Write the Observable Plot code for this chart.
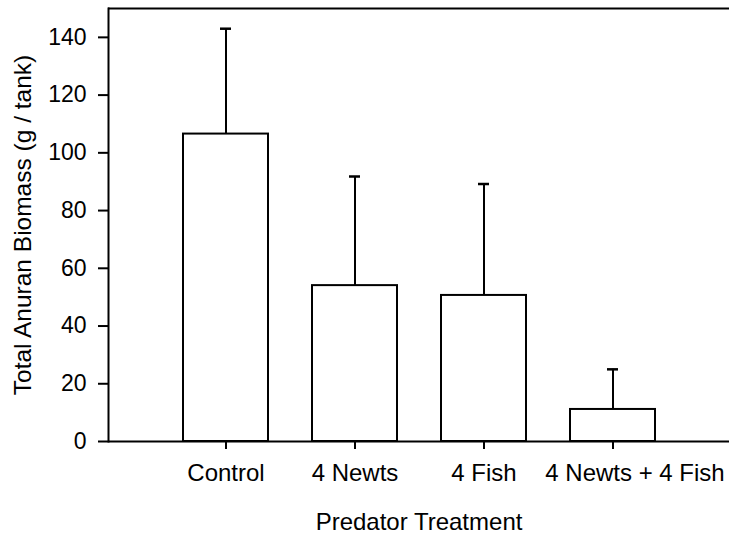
<!DOCTYPE html>
<html>
<head>
<meta charset="utf-8">
<script src="https://cdn.jsdelivr.net/npm/d3@7"></script>
<script src="https://cdn.jsdelivr.net/npm/@observablehq/plot@0.6"></script>
<style>
  html, body { margin: 0; padding: 0; background: white; }
</style>
</head>
<body>
<div id="chart"></div>
<script>
const categories = ["Control", "4 Newts", "4 Fish", "4 Newts + 4 Fish"];
const means = [106.5, 54.0, 50.6, 11.1];
const upperErrors = [36.5, 37.8, 38.6, 13.9];
const yTicks = [0, 20, 40, 60, 80, 100, 120, 140];
const xLabel = "Predator Treatment";
const yLabel = "Total Anuran Biomass (g / tank)";

const data = categories.map((c, i) => ({
  treatment: c,
  mean: means[i],
  upper: means[i] + upperErrors[i]
}));

const chart = Plot.plot({
  width: 733,
  height: 534,
  marginTop: 8,
  marginBottom: 93,
  marginLeft: 108,
  marginRight: 4,
  style: {
    fontFamily: "'Liberation Sans', Arial, sans-serif",
    fontSize: "24px",
    color: "black",
    background: "white"
  },
  x: { domain: categories, paddingInner: 0.343, paddingOuter: 0.572, label: null },
  y: { domain: [0, 150] },
  marks: [
    Plot.barY(data, { x: "treatment", y: "mean", fill: "white", stroke: "black", strokeWidth: 2 }),
    Plot.ruleX(data, { x: "treatment", y1: "mean", y2: "upper", stroke: "black", strokeWidth: 2 }),
    Plot.tickY(data, { x: "treatment", y: "upper", insetLeft: 37, insetRight: 37, stroke: "black", strokeWidth: 2.5 }),
    Plot.ruleY([0], { stroke: "black", strokeWidth: 2 }),
    Plot.ruleY([150], { stroke: "black", strokeWidth: 2 }),
    Plot.frame({ anchor: "left", stroke: "black", strokeWidth: 2 }),
    Plot.axisY({
      ticks: yTicks, tickSize: 10, tickPadding: 12, strokeWidth: 2,
      fontSize: 23, label: null
    }),
    Plot.text([yLabel], {
      text: d => d, frameAnchor: "left", rotate: -90, lineAnchor: "top", textAnchor: "middle",
      dx: -95, fontSize: 24.5, fill: "black"
    }),
    Plot.axisX({
      tickSize: 8, strokeWidth: 2, tickFormat: () => "",
      label: xLabel, labelAnchor: "center", labelOffset: 88, labelArrow: "none", fontSize: 24
    }),
    Plot.text(data.slice(0, 3), { x: "treatment", text: "treatment", frameAnchor: "bottom", lineAnchor: "top", dy: 22, fill: "black" }),
    Plot.text(data.slice(3), { x: "treatment", text: "treatment", frameAnchor: "bottom", lineAnchor: "top", dy: 22, dx: 22, fill: "black" })
  ]
});

document.getElementById("chart").appendChild(chart);
</script>
</body>
</html>
